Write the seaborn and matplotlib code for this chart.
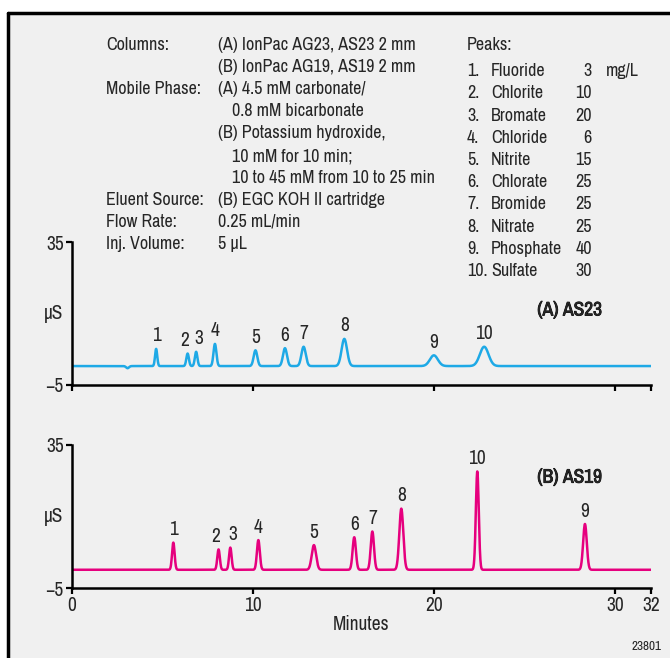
import numpy as np
import pandas as pd
import matplotlib
matplotlib.use('Agg')
import matplotlib.pyplot as plt
import matplotlib.patheffects as pe
import seaborn as sns
from matplotlib import font_manager
from matplotlib.lines import Line2D
from matplotlib.patches import Rectangle

# peak table: retention time (min), height (uS), width (sigma, min)
labels_a = ['1', '2', '3', '4', '5', '6', '7', '8', '9', '10']
rt_a = [4.65, 6.39, 6.86, 7.90, 10.14, 11.77, 12.80, 15.05, 20.00, 22.78]
h_a = [4.8, 3.5, 4.0, 6.2, 4.4, 5.0, 5.4, 7.6, 3.0, 5.4]
w_a = [0.06, 0.07, 0.07, 0.08, 0.10, 0.11, 0.12, 0.15, 0.22, 0.24]
base_a = 0.3
dip_a = (3.07, -0.6, 0.08)

labels_b = ['1', '2', '3', '4', '5', '6', '7', '8', '10', '9']
rt_b = [5.60, 8.10, 8.75, 10.30, 13.37, 15.60, 16.60, 18.20, 22.40, 28.35]
h_b = [7.6, 5.7, 6.2, 8.3, 6.9, 9.1, 10.7, 17.1, 27.5, 12.8]
w_b = [0.07, 0.07, 0.07, 0.08, 0.12, 0.09, 0.09, 0.11, 0.08, 0.10]
base_b = 0.1

info_left = ['Columns:', '', 'Mobile Phase:', '', '', '', '', 'Eluent Source:', 'Flow Rate:', 'Inj. Volume:']
info_right = ['(A) IonPac AG23, AS23 2 mm', '(B) IonPac AG19, AS19 2 mm',
              '(A) 4.5 mM carbonate/', '     0.8 mM bicarbonate',
              '(B) Potassium hydroxide,', '     10 mM for 10 min;',
              '     10 to 45 mM from 10 to 25 min',
              '(B) EGC KOH II cartridge', '0.25 mL/min', '5 µL']
peak_nums = ['1.', '2.', '3.', '4.', '5.', '6.', '7.', '8.', '9.', '10.']
peak_names = ['Fluoride', 'Chlorite', 'Bromate', 'Chloride', 'Nitrite',
              'Chlorate', 'Bromide', 'Nitrate', 'Phosphate', 'Sulfate']
peak_conc = ['3', '10', '20', '6', '15', '25', '25', '25', '40', '30']

sns.set_style('white')

# pick a narrow sans if one is around, the original uses Helvetica Condensed
fonts = font_manager.fontManager.ttflist
stretch = 'normal'
family = 'Liberation Sans'
narrow = [f for f in fonts if 'Narrow' in f.name or 'Condensed' in f.name]
cond = [f for f in fonts if f.stretch in ('condensed', 'semi-condensed', 'extra-condensed')
        and f.weight in (400, 'normal', 'regular')]
if narrow:
    family = sorted(narrow, key=lambda f: ('Liberation' not in f.name, f.name))[0].name
elif cond:
    f0 = sorted(cond, key=lambda f: ('Liberation' not in f.name, 'DejaVu' not in f.name))[0]
    family, stretch = f0.name, f0.stretch
plt.rcParams['font.family'] = [family, 'DejaVu Sans']
plt.rcParams['font.stretch'] = stretch

has_bold = any(f.name == family and f.weight in (600, 700, 800, 'bold', 'semibold')
               for f in fonts)
bold_kw = {'fontweight': 'bold'} if has_bold else {
    'path_effects': [pe.withStroke(linewidth=0.6, foreground='black')]}

t = np.linspace(0, 32, 3201)


def trace(rts, hs, ws, base, extra=None):
    y = np.full_like(t, base)
    for r, h, w in zip(rts, hs, ws):
        y += h * np.exp(-0.5 * ((t - r) / w) ** 2)
    if extra is not None:
        r, h, w = extra
        y += h * np.exp(-0.5 * ((t - r) / w) ** 2)
    return y


df_a = pd.DataFrame({'min': t, 'uS': trace(rt_a, h_a, w_a, base_a, dip_a)})
df_b = pd.DataFrame({'min': t, 'uS': trace(rt_b, h_b, w_b, base_b)})

W, H = 670, 658
fig = plt.figure(figsize=(6.7, 6.58), dpi=100)
fig.patches.append(Rectangle((8 / W, 0), 1, 1 - 13 / H, transform=fig.transFigure,
                             facecolor='#f0f0f0', edgecolor='none', zorder=-10))
fig.add_artist(Line2D([8 / W, 1], [1 - 13 / H] * 2, color='black', lw=2.5))
fig.add_artist(Line2D([8 / W] * 2, [0, 1 - 13 / H], color='black', lw=2.5))

ax_a = fig.add_axes([72 / W, 1 - 385 / H, 579 / W, 143 / H])
ax_b = fig.add_axes([72 / W, 1 - 588 / H, 579 / W, 143 / H])

nudge = {'2': -2, '3': 2}

for ax, df, color, labs, rts, hs, base, title, ty in [
        (ax_a, df_a, '#1ea9e6', labels_a, rt_a, h_a, base_a, '(A) AS23', 16),
        (ax_b, df_b, '#e6007e', labels_b, rt_b, h_b, base_b, '(B) AS19', 26)]:
    ax.set_facecolor('none')
    sns.lineplot(data=df, x='min', y='uS', color=color, lw=1.8, ax=ax)
    for lab, r, h in zip(labs, rts, hs):
        ax.annotate(lab, (r, base + h), xytext=(nudge.get(lab, 0), 2.5),
                    textcoords='offset points', ha='center', va='bottom', fontsize=14)
    ax.set_xlim(0, 32)
    ax.set_ylim(-5, 35)
    ax.set_yticks([35, -5])
    ax.set_yticklabels(['35', '\u22125'])
    ax.set_xticks([0, 10, 20, 30, 32])
    for s in ['top', 'right']:
        ax.spines[s].set_visible(False)
    for s in ['left', 'bottom']:
        ax.spines[s].set_color('black')
        ax.spines[s].set_linewidth(1.8)
    ax.tick_params(axis='both', direction='out', length=4, width=1.6,
                   labelsize=14, pad=2, color='black', bottom=True, left=True)
    ax.set_ylabel('µS', rotation=0, fontsize=14, va='center', ha='right')
    ax.yaxis.set_label_coords(-0.015, 0.5)
    ax.set_xlabel('')
    ax.text(27.5, ty, title, fontsize=14, ha='center', va='center', **bold_kw)

ax_a.set_xticklabels([])
ax_b.set_xlabel('Minutes', fontsize=14, labelpad=0)

fs = 13
row_y = [45, 67, 89, 111, 133, 156, 178, 200, 222, 244]
for y, l, r in zip(row_y, info_left, info_right):
    fig.text(106 / W, 1 - y / H, l, fontsize=fs, va='center', ha='left')
    indent = 14 if r.startswith('     ') else 0
    fig.text((218 + indent) / W, 1 - y / H, r.strip(), fontsize=fs, va='center', ha='left')

fig.text(467 / W, 1 - 45 / H, 'Peaks:', fontsize=fs, va='center', ha='left')
peak_y = [71, 93, 116, 138, 160, 182, 204, 227, 249, 271]
for y, n, name, c in zip(peak_y, peak_nums, peak_names, peak_conc):
    fig.text(467 / W, 1 - y / H, n, fontsize=fs, va='center', ha='left')
    fig.text(491 / W, 1 - y / H, name, fontsize=fs, va='center', ha='left')
    fig.text(592 / W, 1 - y / H, c, fontsize=fs, va='center', ha='right')
fig.text(606 / W, 1 - 71 / H, 'mg/L', fontsize=fs, va='center', ha='left')
fig.text(661 / W, 1 - 646 / H, '23801', fontsize=9.5, va='center', ha='right')

fig.savefig('out.png', dpi=100, facecolor='white')
